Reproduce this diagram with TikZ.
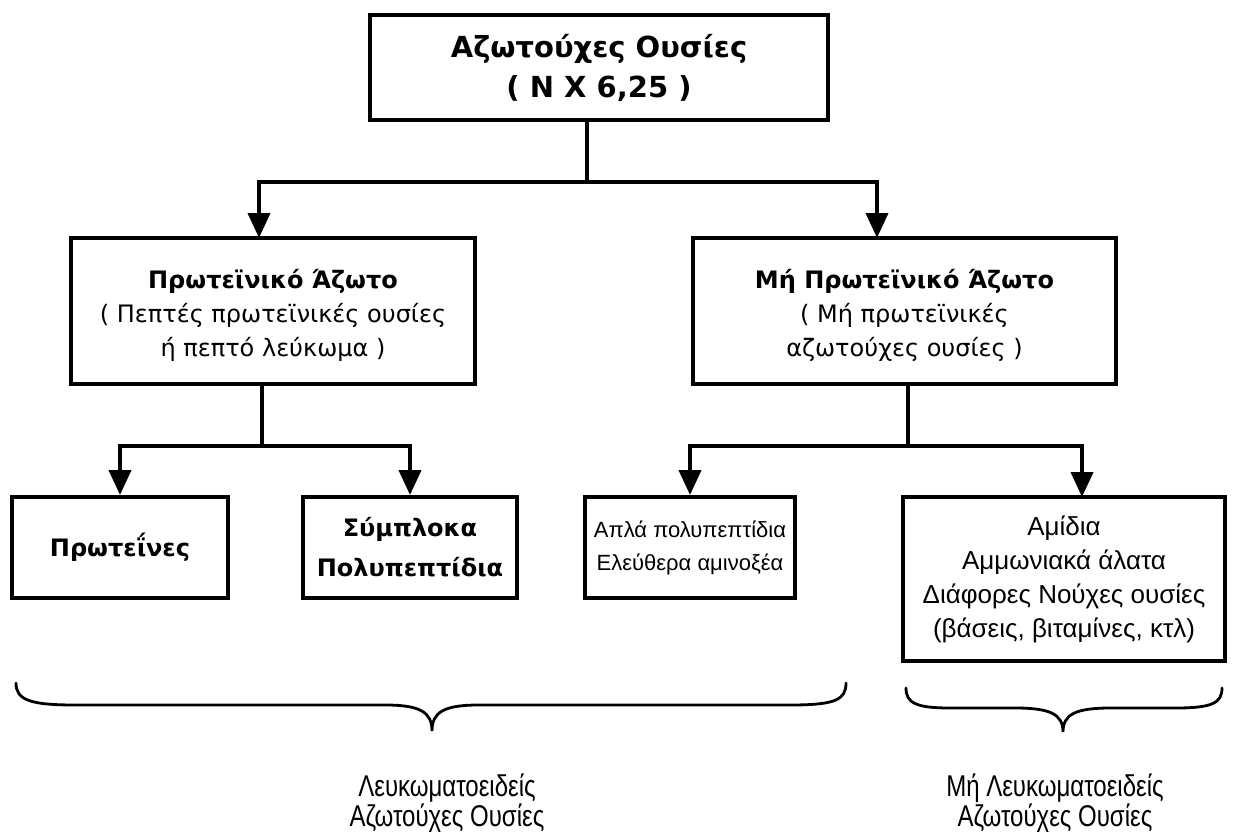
\documentclass[tikz,border=0pt]{standalone}
\usepackage{fontspec}
\setmainfont{Liberation Sans}
\newfontfamily\heavyfont{DejaVu Sans}
\usetikzlibrary{arrows.meta}
\newcommand{\toppad}{\rule{0pt}{28pt}}
\begin{document}
\begin{tikzpicture}[x=1pt,y=-1pt,
  box/.style={draw=black,line width=4pt,fill=white,inner sep=0pt,align=center},
  conn/.style={draw=black,line width=4pt},
  arr/.style={conn,-{Triangle[width=22pt,length=25pt]}},
  curly/.style={draw=black,line width=2.8pt,line cap=round},
  hd/.style={font=\heavyfont\bfseries\fontsize{24}{40}\selectfont},
  mid/.style={font=\heavyfont\fontsize{24}{34}\selectfont},
  lbl/.style={font=\fontsize{30}{30}\selectfont,align=center}]
\useasboundingbox (0,0) rectangle (1234,832);
\fill[white] (0,0) rectangle (1234,832);

% boxes
\node[box,minimum width=458pt,minimum height=105pt,
  font=\heavyfont\bfseries\fontsize{29}{40}\selectfont] (top) at (599,67.5)
  {Αζωτούχες Ουσίες\\( N X 6,25 )};
\node[box,minimum width=404pt,minimum height=146pt,mid] (prot) at (273,311)
  {\toppad{\bfseries Πρωτεϊνικό Άζωτο}\\( Πεπτές πρωτεϊνικές ουσίες\\ή πεπτό λεύκωμα )};
\node[box,minimum width=423pt,minimum height=146pt,mid] (nonprot) at (904.5,311)
  {\toppad{\bfseries Μή Πρωτεϊνικό Άζωτο}\\( Μή πρωτεϊνικές\\αζωτούχες ουσίες )};
\node[box,minimum width=216pt,minimum height=101pt,hd] (proteins) at (120,547.5)
  {Πρωτεΐνες};
\node[box,minimum width=214pt,minimum height=101pt,hd] (complex) at (410,547.5)
  {Σύμπλοκα\\Πολυπεπτίδια};
\node[box,minimum width=210pt,minimum height=101pt,
  font=\fontsize{22}{33}\selectfont] (simple) at (690,547.5)
  {Απλά πολυπεπτίδια\\Ελεύθερα αμινοξέα};
\node[box,minimum width=322pt,minimum height=164pt,
  font=\fontsize{26}{34}\selectfont] (amides) at (1064,579)
  {Αμίδια\\Αμμωνιακά άλατα\\Διάφορες Νούχες ουσίες\\(βάσεις, βιταμίνες, κτλ)};

% branch points
\coordinate (j1) at (587,182);
\coordinate (protIn) at (259,238);
\coordinate (nonprotIn) at (877,238);
\coordinate (j2) at (262,446);
\coordinate (j3) at (908,446);
\coordinate (amidesIn) at (1082,497);

% connectors
\draw[conn] (top.south -| j1) -- (j1);
\draw[arr] (j1) -| (protIn);
\draw[arr] (j1) -| (nonprotIn);
\draw[conn] (prot.south -| j2) -- (j2);
\draw[arr] (j2) -| (proteins.north);
\draw[arr] (j2) -| (complex.north);
\draw[conn] (nonprot.south -| j3) -- (j3);
\draw[arr] (j3) -| (simple.north);
\draw[arr] (j3) -| (amidesIn);

% braces
\draw[curly] (16,683) .. controls (16,700) and (30,705) .. (75,705)
  -- (385,705) .. controls (420,705) and (432,712) .. (432,731)
  .. controls (432,712) and (444,705) .. (479,705)
  -- (790,705) .. controls (835,705) and (846,700) .. (846,683);
\draw[curly] (906,688) .. controls (906,703) and (916,708) .. (950,708)
  -- (1015,708) .. controls (1050,708) and (1063,714) .. (1063,732)
  .. controls (1063,714) and (1076,708) .. (1111,708)
  -- (1176,708) .. controls (1212,708) and (1222,703) .. (1222,688);

% group labels
\node[lbl] (protlbl) at (447,803)
  {\scalebox{0.8}[1]{Λευκωματοειδείς}\\\scalebox{0.8}[1]{Αζωτούχες Ουσίες}};
\node[lbl] (nonprotlbl) at (1055,803)
  {\scalebox{0.8}[1]{Μή Λευκωματοειδείς}\\\scalebox{0.8}[1]{Αζωτούχες Ουσίες}};
\end{tikzpicture}
\end{document}
